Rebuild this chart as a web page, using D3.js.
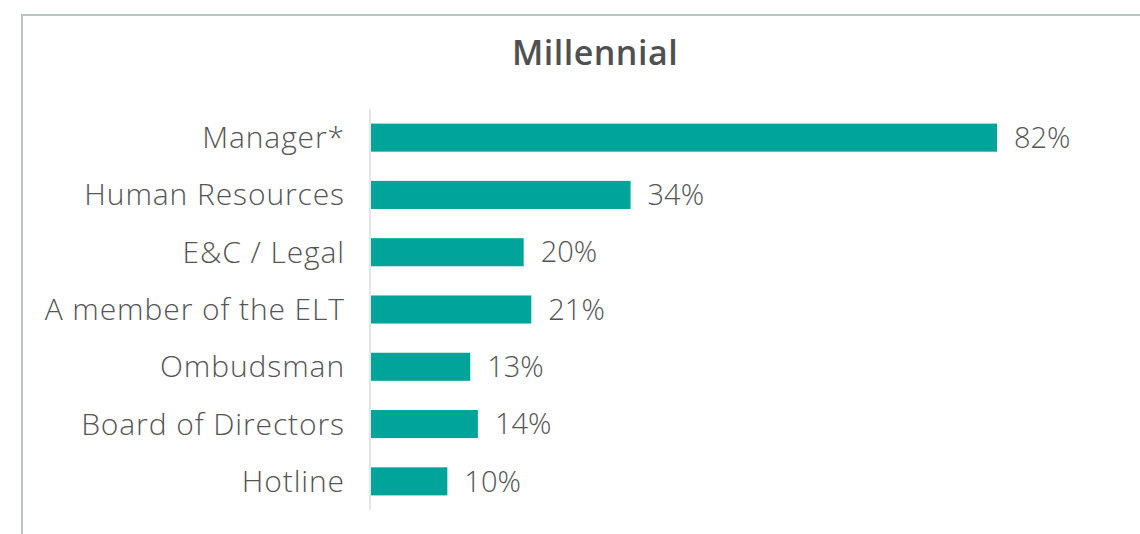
<!DOCTYPE html>
<html>
<head>
<meta charset="utf-8">
<script src="https://cdn.jsdelivr.net/npm/d3@7"></script>
<style>
  html, body { margin: 0; padding: 0; background: #fff; }
  svg { display: block; }
</style>
</head>
<body>
<svg id="chart" width="1140" height="534"></svg>
<script>
// Who millennials would report misconduct to
const title = "Millennial";
const categories = ["Manager*", "Human Resources", "E&C / Legal", "A member of the ELT", "Ombudsman", "Board of Directors", "Hotline"];
const values = [82, 34, 20, 21, 13, 14, 10];
const valueLabels = ["82%", "34%", "20%", "21%", "13%", "14%", "10%"];

const W = 1140, H = 534;
const svg = d3.select("#chart");
const font = "'Open Sans', Lato, sans-serif";

// panel frame (runs off the right and bottom edges)
svg.append("rect")
  .attr("x", 22).attr("y", 15)
  .attr("width", W + 20).attr("height", H + 20)
  .attr("fill", "#fff")
  .attr("stroke", "#b7c3c5").attr("stroke-width", 2);

svg.append("text")
  .attr("x", 595).attr("y", 65)
  .attr("text-anchor", "middle")
  .attr("font-family", font).attr("font-weight", 600)
  .attr("font-size", 34).attr("letter-spacing", 0.5)
  .attr("fill", "#505050")
  .text(title);

const x0 = 371;
const x = d3.scaleLinear().domain([0, 82]).range([x0, 997]);
const y = d3.scaleBand().domain(categories).range([109, 510]).paddingInner(0.51).paddingOuter(0.255);

// axis baseline
svg.append("line")
  .attr("x1", 370).attr("x2", 370)
  .attr("y1", 109).attr("y2", 510)
  .attr("stroke", "#dcdcdc").attr("stroke-width", 1.5);

const rows = categories.map((c, i) => ({ c, v: values[i], label: valueLabels[i] }));

svg.append("g").selectAll("rect")
  .data(rows).join("rect")
  .attr("x", x(0))
  .attr("y", d => y(d.c))
  .attr("width", d => x(d.v) - x(0))
  .attr("height", y.bandwidth())
  .attr("fill", "#00a499");

const yAxis = d3.axisLeft(y).tickSize(0).tickPadding(25);
const ga = svg.append("g").attr("transform", `translate(370,0)`).call(yAxis);
ga.select(".domain").remove();
ga.selectAll("text")
  .attr("font-family", font).attr("font-weight", 300)
  .attr("font-size", 30).attr("letter-spacing", 0.9)
  .attr("fill", "#555")
  .attr("dy", "0.35em");

svg.append("g").selectAll("text")
  .data(rows).join("text")
  .attr("x", d => x(d.v) + 17)
  .attr("y", d => y(d.c) + y.bandwidth() / 2)
  .attr("dy", "0.35em")
  .attr("font-family", font).attr("font-weight", 300)
  .attr("font-size", 29).attr("fill", "#555")
  .text(d => d.label);
</script>
</body>
</html>
